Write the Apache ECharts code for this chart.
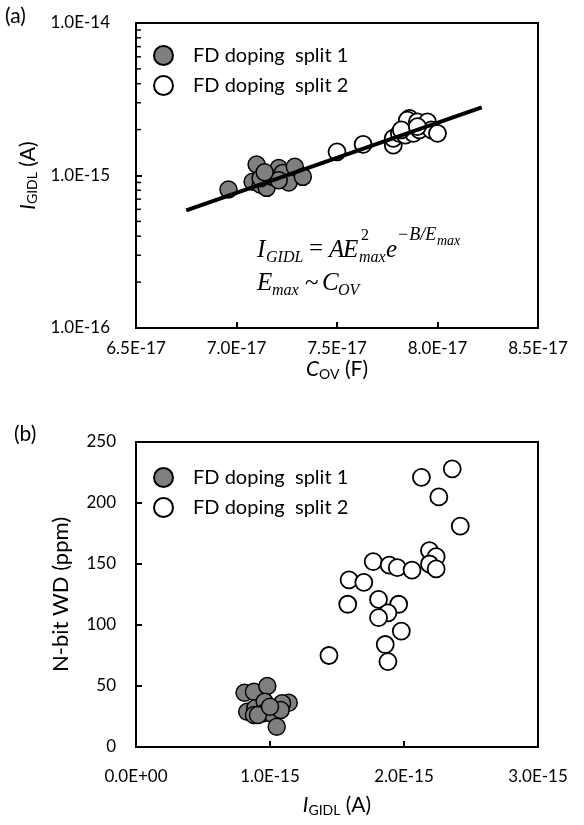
<!DOCTYPE html>
<html>
<head>
<meta charset="utf-8">
<script src="https://cdn.jsdelivr.net/npm/echarts@6/dist/echarts.min.js"></script>
<style>
html,body{margin:0;padding:0;background:#fff;}
#chart{width:584px;height:825px;}
</style>
</head>
<body>
<div id="chart"></div>
<script>
var splitNames = ['FD doping  split 1', 'FD doping  split 2'];

// (a) I_GIDL vs C_OV
var covSplit1 = [6.96e-17, 7.10e-17, 7.08e-17, 7.12e-17, 7.15e-17, 7.18e-17, 7.21e-17, 7.23e-17, 7.29e-17, 7.26e-17, 7.33e-17, 7.12e-17, 7.21e-17, 7.14e-17];
var igidlSplit1 = [8.1e-16, 11.8e-16, 9.1e-16, 8.7e-16, 8.3e-16, 9.8e-16, 11.2e-16, 10.4e-16, 11.4e-16, 9.0e-16, 9.8e-16, 9.6e-16, 9.3e-16, 10.5e-16];
var covSplit2 = [7.50e-17, 7.63e-17, 7.78e-17, 7.78e-17, 7.81e-17, 7.84e-17, 7.86e-17, 7.85e-17, 7.90e-17, 7.88e-17, 7.91e-17, 7.95e-17, 7.97e-17, 8.00e-17, 7.82e-17, 7.90e-17];
var igidlSplit2 = [1.43e-15, 1.60e-15, 1.58e-15, 1.75e-15, 1.89e-15, 1.84e-15, 2.37e-15, 2.31e-15, 2.25e-15, 1.89e-15, 1.99e-15, 2.25e-15, 1.99e-15, 1.89e-15, 1.99e-15, 2.09e-15];
var fitCov = [6.75e-17, 8.22e-17];
var fitIgidl = [5.9e-16, 2.8e-15];
var igidlMinorTicks = [2e-16, 3e-16, 4e-16, 5e-16, 6e-16, 7e-16, 8e-16, 9e-16, 2e-15, 3e-15, 4e-15, 5e-15, 6e-15, 7e-15, 8e-15, 9e-15];

// (b) N-bit WD vs I_GIDL
var igidlB1 = [0.81e-15, 0.88e-15, 0.98e-15, 1.14e-15, 1.09e-15, 0.83e-15, 0.89e-15, 0.96e-15, 0.95e-15, 1.01e-15, 1.08e-15, 1.05e-15, 0.88e-15, 0.91e-15, 1.00e-15];
var wdB1 = [44.5, 45.3, 50.0, 36.3, 35.8, 28.9, 31.7, 37.1, 27.6, 27.6, 30.3, 16.6, 26.2, 26.2, 33.0];
var igidlB2 = [2.13e-15, 2.36e-15, 2.26e-15, 2.42e-15, 2.19e-15, 2.24e-15, 2.19e-15, 2.24e-15, 1.77e-15, 1.89e-15, 1.95e-15, 2.06e-15, 1.59e-15, 1.70e-15, 1.58e-15, 1.81e-15, 1.96e-15, 1.88e-15, 1.81e-15, 1.98e-15, 1.86e-15, 1.88e-15, 1.44e-15];
var wdB2 = [221, 228, 205, 181, 161, 156, 150, 146, 152, 149, 147, 145, 137, 135, 117, 121, 117, 110, 106, 95, 84, 70, 75];

var FONT = 'Lato';
var MATH = 'Liberation Serif';

function zip(a, b){
    var out = [];
    for(var i=0;i<a.length;i++){
        out.push([a[i], b[i]]);
    }
    return out;
}
function fmtE(v){
    var s = v.toExponential(1).toUpperCase();
    return s.replace(/E([+-])(\d)$/, 'E$10$2');
}
function axisBase(){
    return {
        axisLine:{show:true, onZero:false, lineStyle:{color:'#000', width:2}},
        axisTick:{show:true, inside:true, length:6, lineStyle:{color:'#000', width:2}},
        splitLine:{show:false},
        axisLabel:{color:'#000', fontFamily:FONT, fontSize:17, formatter:fmtE},
        nameTextStyle:{color:'#000', fontFamily:FONT, fontSize:21}
    };
}
var nameRich = {
    i:{fontFamily:FONT, fontSize:21, fontStyle:'italic', color:'#000'},
    s:{fontFamily:FONT, fontSize:14, color:'#000', padding:[9,0,0,0]},
    n:{fontFamily:FONT, fontSize:21, color:'#000'}
};
function mathText(x, y, text, size, italic){
    return {
        type:'text', x:x, y:y, silent:true,
        style:{
            text:text, fill:'#000',
            font:(italic ? 'italic ' : '') + size + 'px "' + MATH + '"',
            verticalAlign:'middle', align:'left'
        }
    };
}
function pointStyle(fill, bw){
    return {color:fill, borderColor:'#000', borderWidth:bw, opacity:1};
}
function legendAt(top){
    return {data:splitNames, orient:'vertical', left:148, top:top, itemWidth:19, itemHeight:19, itemGap:9,
            icon:'circle', selectedMode:false,
            textStyle:{color:'#000', fontFamily:FONT, fontSize:20, padding:[0,0,0,15]}};
}

var xA = Object.assign(axisBase(), {
    gridIndex:0, type:'value', min:6.5e-17, max:8.5e-17, interval:0.5e-17,
    name:'{i|C}{s|OV}{n| (F)}', nameLocation:'middle', nameGap:30
});
xA.axisLabel.margin = 12;
xA.nameTextStyle.rich = nameRich;

var yA = Object.assign(axisBase(), {
    gridIndex:0, type:'log', logBase:10, min:1e-16, max:1e-14,
    name:'{i|I}{s|GIDL}{n| (A)}', nameLocation:'middle', nameGap:96, nameRotate:90
});
yA.axisLabel.margin = 26;
yA.nameTextStyle.rich = nameRich;

var xB = Object.assign(axisBase(), {
    gridIndex:1, type:'value', min:0, max:3e-15, interval:1e-15,
    name:'{i|I}{s|GIDL}{n| (A)}', nameLocation:'middle', nameGap:47
});
xB.axisLabel.margin = 21;
xB.nameTextStyle.rich = nameRich;

var yB = Object.assign(axisBase(), {
    gridIndex:1, type:'value', min:0, max:250, interval:50,
    name:'N-bit WD (ppm)', nameLocation:'middle', nameGap:64, nameRotate:90
});
yB.axisLabel.margin = 20;
yB.axisLabel.formatter = '{value}';
yB.nameTextStyle.fontSize = 22;

var chart = echarts.init(document.getElementById('chart'), null, {renderer:'canvas'});
chart.setOption({
    backgroundColor:'#fff',
    animation:false,
    grid:[
        {left:136, right:46, top:23, height:305, show:true, borderColor:'#000', borderWidth:2, backgroundColor:'transparent'},
        {left:136, right:46, top:442, height:305, show:true, borderColor:'#000', borderWidth:2, backgroundColor:'transparent'}
    ],
    xAxis:[xA, xB],
    yAxis:[yA, yB],
    legend:[legendAt(40), legendAt(462)],
    series:[
        {name:splitNames[0], type:'scatter', xAxisIndex:0, yAxisIndex:0, data:zip(covSplit1, igidlSplit1),
         symbol:'circle', symbolSize:17, itemStyle:pointStyle('#7f7f7f', 1.5), z:2},
        {name:splitNames[1], type:'scatter', xAxisIndex:0, yAxisIndex:0, data:zip(covSplit2, igidlSplit2),
         symbol:'circle', symbolSize:17, itemStyle:pointStyle('#fff', 1.8), z:2},
        {name:'fit', type:'line', xAxisIndex:0, yAxisIndex:0, data:zip(fitCov, fitIgidl),
         showSymbol:false, lineStyle:{color:'#000', width:4}, z:3},
        {name:'minor', type:'custom', xAxisIndex:0, yAxisIndex:0, silent:true, clip:false, z:4,
         data:igidlMinorTicks.map(function(v){ return [6.5e-17, v]; }),
         renderItem:function(params, api){
             var p = api.coord([api.value(0), api.value(1)]);
             return {type:'line', shape:{x1:p[0], y1:p[1], x2:p[0]+5, y2:p[1]},
                     style:{stroke:'#000', lineWidth:1.5}};
         }},
        {name:splitNames[0], type:'scatter', xAxisIndex:1, yAxisIndex:1, data:zip(igidlB1, wdB1),
         symbol:'circle', symbolSize:17, itemStyle:pointStyle('#7f7f7f', 1.5), z:2},
        {name:splitNames[1], type:'scatter', xAxisIndex:1, yAxisIndex:1, data:zip(igidlB2, wdB2),
         symbol:'circle', symbolSize:17, itemStyle:pointStyle('#fff', 1.8), z:2}
    ],
    graphic:[
        {type:'text', left:5, top:6, style:{text:'(a)', fill:'#000', font:'21px ' + FONT}},
        {type:'text', left:14, top:424, style:{text:'(b)', fill:'#000', font:'21px ' + FONT}},
        mathText(257, 250, 'I', 25, true),
        mathText(266, 258, 'GIDL', 16, true),
        mathText(309, 249, '=', 25, false),
        mathText(329, 250, 'A', 25, true),
        mathText(343, 250, 'E', 25, true),
        mathText(361, 236, '2', 16, false),
        mathText(359, 258, 'max', 16, true),
        mathText(386, 250, 'e', 25, true),
        mathText(397, 235, '\u2212B/E', 18, true),
        mathText(437, 241, 'max', 14, true),
        mathText(257, 283, 'E', 25, true),
        mathText(272, 291, 'max', 16, true),
        mathText(305, 283, '~', 25, false),
        mathText(322, 283, 'C', 25, true),
        mathText(338, 291, 'OV', 16, true)
    ]
});
</script>
</body>
</html>
